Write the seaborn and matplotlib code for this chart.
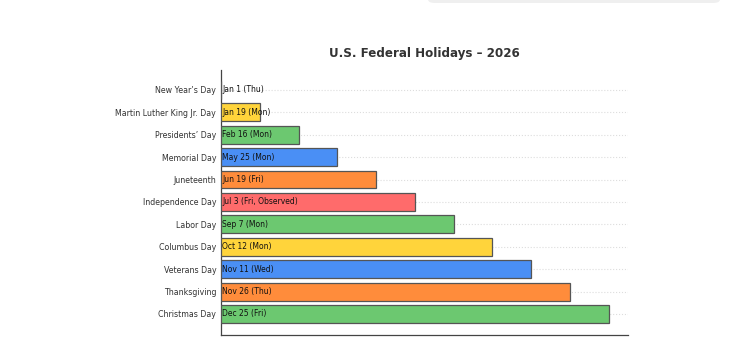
import matplotlib
matplotlib.use("Agg")
import matplotlib.pyplot as plt
import seaborn as sns
import pandas as pd
from matplotlib.patches import FancyBboxPatch

holidays = ["New Year\u2019s Day", "Martin Luther King Jr. Day", "Presidents\u2019 Day",
            "Memorial Day", "Juneteenth", "Independence Day", "Labor Day",
            "Columbus Day", "Veterans Day", "Thanksgiving", "Christmas Day"]
dates = ["Jan 1 (Thu)", "Jan 19 (Mon)", "Feb 16 (Mon)", "May 25 (Mon)", "Jun 19 (Fri)",
         "Jul 3 (Fri, Observed)", "Sep 7 (Mon)", "Oct 12 (Mon)", "Nov 11 (Wed)",
         "Nov 26 (Thu)", "Dec 25 (Fri)"]
order_values = [0, 1, 2, 3, 4, 5, 6, 7, 8, 9, 10]
colors = ["#ff6b6b", "#ffd43b", "#6cc870", "#4a8ff5", "#ff8c3b", "#ff6b6b",
          "#6cc870", "#ffd43b", "#4a8ff5", "#ff8c3b", "#6cc870"]

df = pd.DataFrame({"holiday": holidays, "value": order_values, "date": dates})

sns.set_style("white")
fig = plt.figure(figsize=(7.48, 3.44), dpi=100)
ax = fig.add_axes([221/748, 1-335/344, (628-221)/748, (335-70)/344])

sns.barplot(data=df, x="value", y="holiday", hue="holiday", palette=colors,
            legend=False, ax=ax, width=0.8, edgecolor="#555555", linewidth=0.9,
            saturation=1, zorder=3)

for i, d in enumerate(dates):
    ax.text(0.03, i, d, va="center", ha="left", fontsize=5.5, color="#111111", zorder=4)

ax.set_xlim(0, 10.5)
ax.set_ylim(10.94, -0.89)
ax.set_xlabel("")
ax.set_ylabel("")
ax.set_xticks([])
ax.tick_params(axis="y", labelsize=5.7, labelcolor="#333333", direction="inout",
               length=4, width=0.6, color="#444444", pad=1.5)
ax.grid(axis="y", linestyle=":", color="#dddddd", linewidth=0.8, zorder=0)
ax.set_axisbelow(True)
for s in ["top", "right"]:
    ax.spines[s].set_visible(False)
for s in ["left", "bottom"]:
    ax.spines[s].set_color("#444444")
    ax.spines[s].set_linewidth(0.9)

fig.text(424.5/748, 1-54/344, "U.S. Federal Holidays \u2013 2026", ha="center", va="center",
         fontsize=8.6, fontweight="bold", color="#333333")

fig.patches.append(FancyBboxPatch((428/748, 1.0 - 3/344), (720-428)/748, 0.05,
                                  boxstyle="round,pad=0,rounding_size=0.01",
                                  transform=fig.transFigure, facecolor="#efefef",
                                  edgecolor="none", figure=fig))

fig.savefig("out.png", dpi=100)
